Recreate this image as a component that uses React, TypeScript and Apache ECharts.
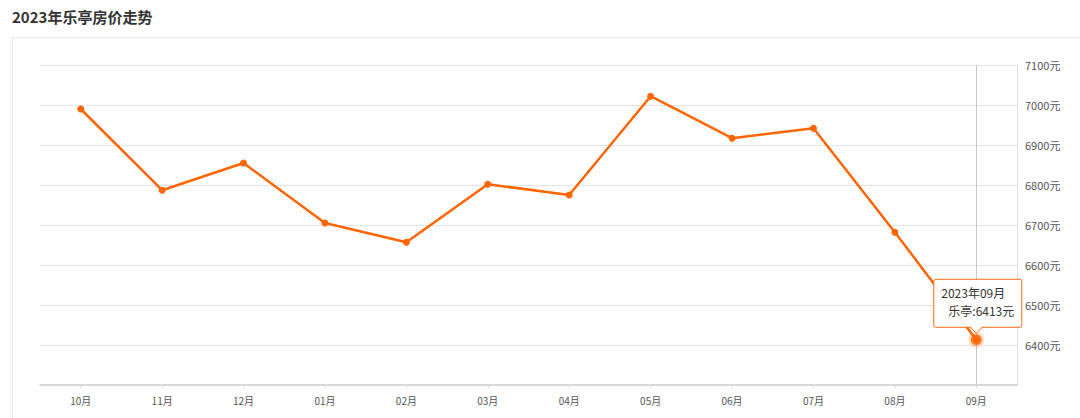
import React, { useEffect, useRef } from "react";
import * as echarts from "echarts";

const title = "2023年乐亭房价走势";
const categories = ["10月", "11月", "12月", "01月", "02月", "03月", "04月", "05月", "06月", "07月", "08月", "09月"];
const prices = [6990, 6787, 6855, 6705, 6657, 6802, 6775, 7022, 6917, 6942, 6682, 6413];
const seriesName = "乐亭";
const tipTitle = "2023年09月";
const yMin = 6300;
const yMax = 7100;
const yStep = 100;

export default function App() {
  const ref = useRef<HTMLDivElement>(null);
  useEffect(() => {
    const chart = echarts.init(ref.current!, null, { renderer: "svg" });
    const last = prices.length - 1;
    const font = "'Noto Sans CJK SC', 'Noto Sans', sans-serif";
    chart.setOption({
      animation: false,
      textStyle: { fontFamily: font },
      title: {
        text: title,
        left: 7,
        top: 4,
        textStyle: { fontSize: 15, fontWeight: "bold", color: "#333", fontFamily: font },
      },
      grid: { left: 40, right: 63, top: 65, bottom: 33 },
      xAxis: {
        type: "category",
        data: categories,
        boundaryGap: true,
        axisLine: { show: true, lineStyle: { color: "#d9d9d9", width: 2 } },
        axisTick: { show: true, alignWithLabel: true, length: 3, lineStyle: { color: "#ddd" } },
        axisLabel: { color: "#555", fontSize: 10, margin: 10, fontFamily: font },
        splitLine: { show: false },
      },
      yAxis: {
        type: "value",
        position: "right",
        min: yMin,
        max: yMax,
        interval: yStep,
        axisLine: { show: true, lineStyle: { color: "#ddd" } },
        axisTick: { show: false },
        axisLabel: {
          color: "#555",
          fontSize: 11,
          margin: 8,
          formatter: (v: number) => String(v) + "元",
          fontFamily: font,
          showMinLabel: false,
        },
        splitLine: { show: true, lineStyle: { color: "#e3e3e3" } },
      },
      series: [
        {
          type: "line",
          data: [],
          silent: true,
          z: 1,
          markLine: {
            silent: true,
            symbol: ["none", "none"],
            label: { show: false },
            lineStyle: { color: "#c8c8c8", type: "solid", width: 1 },
            data: [{ xAxis: categories[last] }],
            z: 1,
          },
        },
        {
          name: seriesName,
          type: "line",
          data: prices,
          symbol: "circle",
          symbolSize: 7,
          lineStyle: { color: "#ff6600", width: 2.5 },
          itemStyle: { color: "#ff6600" },
          z: 3,
        },
        {
          type: "scatter",
          data: prices.map((v, i) => (i === last ? v : null)),
          symbol: "circle",
          symbolSize: 11,
          itemStyle: { color: "#ff6600", borderColor: "rgba(255,102,0,0.25)", borderWidth: 5 },
          z: 5,
        },
      ],
    });

    const p = chart.convertToPixel({ xAxisIndex: 0, yAxisIndex: 0 }, [last, prices[last]]) as number[];
    const px = p[0];
    const py = p[1];
    const bx = px - 43;
    const by = py - 61;
    const bw = 88;
    const bh = 48;
    chart.setOption({
      graphic: [
        { type: "line", shape: { x1: 12.5, y1: 37, x2: 12.5, y2: 418 }, style: { stroke: "#ebebeb", lineWidth: 1 }, silent: true },
        { type: "line", shape: { x1: 12, y1: 37.5, x2: 1080, y2: 37.5 }, style: { stroke: "#ebebeb", lineWidth: 1 }, silent: true },
        {
          type: "rect",
          shape: { x: bx + 0.5, y: by + 0.5, width: bw, height: bh, r: 2 },
          style: { fill: "rgba(255,255,255,0.92)", stroke: "#ff6a13", lineWidth: 1 },
          z: 100,
        },
        {
          type: "polygon",
          shape: { points: [[px - 6, by + bh - 0.5], [px + 6, by + bh - 0.5], [px, by + bh + 6.5]] },
          style: { fill: "#fff" },
          z: 101,
        },
        {
          type: "polyline",
          shape: { points: [[px - 6, by + bh + 0.5], [px, by + bh + 6.5], [px + 6, by + bh + 0.5]] },
          style: { stroke: "#ff6a13", lineWidth: 1, fill: null },
          z: 101,
        },
        {
          type: "text",
          x: bx + 8,
          y: by + 14,
          style: { text: tipTitle, fill: "#333", fontSize: 12, fontFamily: font, verticalAlign: "middle" },
          z: 102,
        },
        {
          type: "text",
          x: bx + bw - 7,
          y: by + 32,
          style: { text: seriesName + ":" + prices[last] + "元", fill: "#333", fontSize: 12, fontFamily: font, align: "right", verticalAlign: "middle" },
          z: 102,
        },
      ],
    });
    return () => chart.dispose();
  }, []);
  return <div ref={ref} style={{ position: "fixed", left: 0, top: 0, width: 1080, height: 418, background: "#fff" }} />;
}
